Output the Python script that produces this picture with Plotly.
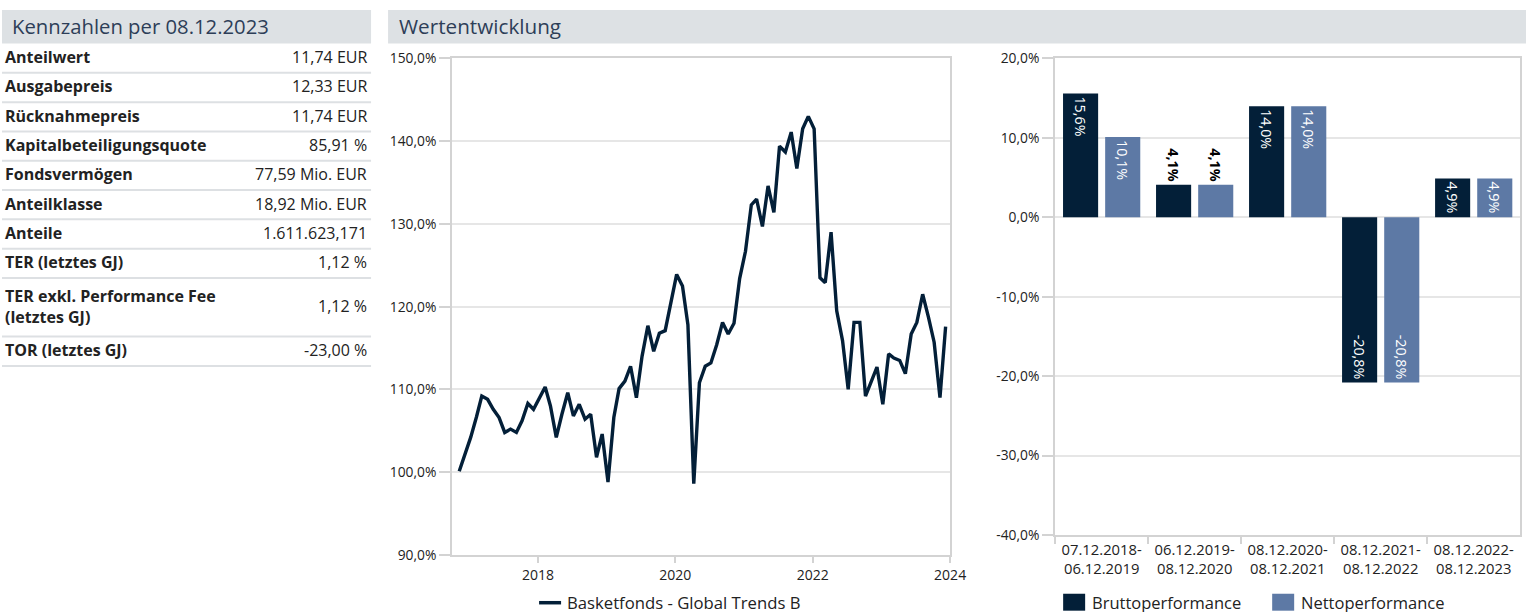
import plotly.graph_objects as go
import pandas as pd

# ---------------- data ----------------
kz_title = "Kennzahlen per 08.12.2023"
perf_title = "Wertentwicklung"
kz_labels = ["Anteilwert", "Ausgabepreis", "Rücknahmepreis", "Kapitalbeteiligungsquote",
             "Fondsvermögen", "Anteilklasse", "Anteile", "TER (letztes GJ)",
             "TER exkl. Performance Fee<br>(letztes GJ)", "TOR (letztes GJ)"]
kz_values = ["11,74 EUR", "12,33 EUR", "11,74 EUR", "85,91 %", "77,59 Mio. EUR",
             "18,92 Mio. EUR", "1.611.623,171", "1,12 %", "1,12 %", "-23,00 %"]

line_name = "Basketfonds - Global Trends B"
line_dates = pd.date_range("2016-11-01", periods=86, freq="MS") + pd.Timedelta(days=7)
line_values = [100.1, 102.0, 104.2, 106.7, 109.2, 108.8, 107.6, 106.6, 104.8, 105.2,
               104.8, 106.2, 108.3, 107.6, 108.9, 110.3, 108.0, 104.2, 107.0, 109.6,
               106.8, 108.2, 106.4, 107.0, 101.8, 104.6, 98.8, 106.6, 110.1, 111.0,
               112.8, 109.0, 114.0, 117.7, 114.6, 116.8, 117.1, 120.5, 123.9, 122.5,
               117.8, 98.6, 110.8, 112.8, 113.2, 115.4, 118.1, 116.7, 118.0, 123.4,
               126.7, 132.3, 133.0, 129.7, 134.6, 131.4, 139.4, 138.7, 141.1, 136.7,
               141.5, 143.0, 141.5, 123.5, 122.9, 129.0, 119.5, 115.9, 110.0, 118.1,
               118.1, 109.2, 110.9, 112.7, 108.2, 114.3, 113.8, 113.5, 111.9, 116.7,
               118.1, 121.5, 118.7, 115.7, 109.0, 117.6]

bar_periods = ["07.12.2018-<br>06.12.2019", "06.12.2019-<br>08.12.2020",
               "08.12.2020-<br>08.12.2021", "08.12.2021-<br>08.12.2022",
               "08.12.2022-<br>08.12.2023"]
brutto_name = "Bruttoperformance"
netto_name = "Nettoperformance"
brutto_values = [15.6, 4.1, 14.0, -20.8, 4.9]
netto_values = [10.1, 4.1, 14.0, -20.8, 4.9]
bar_tickvals = [-40, -30, -20, -10, 0, 10, 20]
bar_ticktext = ["-40,0%", "-30,0%", "-20,0%", "-10,0%", "0,0%", "10,0%", "20,0%"]

# ---------------- style ----------------
W, H = 1542, 622
SX, SY = 0.9895, 0.9726     # page -> picture scale observed in earlier renders
OX, OY = 1.0, 8.6           # offset of the figure inside the page
FONT = "Open Sans"
NAVY = "#031f38"
BLUE = "#5d79a5"
HEAD_BG = "#dde1e4"
HEAD_TXT = "#2d3e58"
GRID = "#e6e6e6"
AXIS = "#d3d3d3"
TXT = "#222222"


def px(x):
    f = (x / SX - OX) / W
    return min(1.0, max(0.0, f))


def py(y):
    f = 1 - (y / SY - OY) / H
    return min(1.0, max(0.0, f))


fig = go.Figure()

fig.add_trace(go.Scatter(
    x=line_dates, y=line_values, mode="lines", name=line_name,
    line=dict(color=NAVY, width=3.4), xaxis="x", yaxis="y", showlegend=False,
))


def text_pos(vals):
    return ["outside" if abs(v) < 4.5 else "inside" for v in vals]


def bar_text(vals):
    out = []
    for v, pos in zip(vals, text_pos(vals)):
        s = ("%.1f%%" % v).replace(".", ",")
        out.append("<b>%s</b>" % s if pos == "outside" else s)
    return out


for name, vals, col in [(brutto_name, brutto_values, NAVY), (netto_name, netto_values, BLUE)]:
    fig.add_trace(go.Bar(
        x=bar_periods, y=vals, name=name, marker_color=col, marker_line_width=0,
        text=bar_text(vals), textposition=text_pos(vals),
        textangle=90, insidetextanchor="end", constraintext="none",
        insidetextfont=dict(color="white", size=14.3, family=FONT),
        outsidetextfont=dict(color="#000000", size=14.3, family=FONT),
        xaxis="x2", yaxis="y2", showlegend=False, cliponaxis=False,
    ))

axis_common = dict(
    showline=True, linecolor=AXIS, linewidth=2, mirror=True,
    ticks="outside", tickcolor=AXIS, tickwidth=1.5, zeroline=False,
)
tf_y = dict(family=FONT, size=13.8, color=TXT)

fig.update_layout(
    width=W, height=H, margin=dict(l=0, r=0, t=0, b=0),
    paper_bgcolor="white", plot_bgcolor="white",
    separators=",.",
    font=dict(family=FONT, color=TXT),
    barmode="group", bargap=0.094, bargroupgap=0.167,
    xaxis=dict(domain=[px(453), px(951)], type="date",
               range=["2016-10-01", "2024-01-01"], tick0="2018-01-01", dtick="M24",
               tickformat="%Y", showgrid=False, ticklen=6, anchor="y",
               tickfont=dict(family=FONT, size=14, color=TXT), **axis_common),
    yaxis=dict(domain=[py(555), py(57)], range=[90, 150], dtick=10,
               tickformat=".1f", ticksuffix="%", showgrid=True, gridcolor=GRID,
               gridwidth=2, ticklen=11, anchor="x", tickfont=tf_y, **axis_common),
    xaxis2=dict(domain=[px(1056), px(1521)], type="category", tickson="boundaries",
                showgrid=False, ticklen=7, anchor="y2",
                tickfont=dict(family=FONT, size=14.8, color=TXT), **axis_common),
    yaxis2=dict(domain=[py(535), py(57)], range=[-40, 20],
                tickvals=bar_tickvals, ticktext=bar_ticktext,
                showgrid=True, gridcolor=GRID,
                gridwidth=2, ticklen=11, anchor="x2", tickfont=tf_y, **axis_common),
)

shapes = []
ann = []
# header bars
shapes.append(dict(type="rect", xref="paper", yref="paper", x0=px(3), x1=px(372),
                   y0=py(42), y1=py(7), fillcolor=HEAD_BG, line_width=0, layer="below"))
shapes.append(dict(type="rect", xref="paper", yref="paper", x0=px(389), x1=1.0,
                   y0=py(42), y1=py(7), fillcolor=HEAD_BG, line_width=0, layer="below"))
ann.append(dict(text=kz_title, xref="paper", yref="paper", x=px(11), y=py(24.5),
                xanchor="left", yanchor="middle", showarrow=False,
                font=dict(family=FONT, size=20.3, color=HEAD_TXT)))
ann.append(dict(text=perf_title, xref="paper", yref="paper", x=px(398), y=py(24.5),
                xanchor="left", yanchor="middle", showarrow=False,
                font=dict(family=FONT, size=20.7, color=HEAD_TXT)))

# table rows
row_h = 29.4
top = 42
for lab, val in zip(kz_labels, kz_values):
    n = 2 if "<br>" in lab else 1
    y1 = top + row_h * n
    cy = (top + y1) / 2
    ann.append(dict(text="<b>%s</b>" % lab, xref="paper", yref="paper", x=px(4), y=py(cy - 1),
                    xanchor="left", yanchor="middle", align="left", showarrow=False,
                    font=dict(family=FONT, size=16, color=TXT)))
    ann.append(dict(text=val, xref="paper", yref="paper", x=px(370), y=py(cy - 1),
                    xanchor="right", yanchor="middle", align="right", showarrow=False,
                    font=dict(family=FONT, size=16, color=TXT)))
    shapes.append(dict(type="line", xref="paper", yref="paper", x0=px(3), x1=px(372),
                       y0=py(y1), y1=py(y1), line=dict(color="#dde0e3", width=2)))
    top = y1

# legends (drawn manually to match the reference's swatches)
LEG_Y = 603
shapes.append(dict(type="line", xref="paper", yref="paper", x0=px(540), x1=px(562),
                   y0=py(LEG_Y), y1=py(LEG_Y), line=dict(color=NAVY, width=3.5)))
ann.append(dict(text=line_name, xref="paper", yref="paper", x=px(566), y=py(LEG_Y),
                xanchor="left", yanchor="middle", showarrow=False,
                font=dict(family=FONT, size=16.7, color=TXT)))
shapes.append(dict(type="rect", xref="paper", yref="paper", x0=px(1064), x1=px(1086),
                   y0=py(611), y1=py(594), fillcolor=NAVY, line_width=0))
ann.append(dict(text=brutto_name, xref="paper", yref="paper", x=px(1091), y=py(LEG_Y),
                xanchor="left", yanchor="middle", showarrow=False,
                font=dict(family=FONT, size=16.5, color=TXT)))
shapes.append(dict(type="rect", xref="paper", yref="paper", x0=px(1273), x1=px(1295),
                   y0=py(611), y1=py(594), fillcolor=BLUE, line_width=0))
ann.append(dict(text=netto_name, xref="paper", yref="paper", x=px(1300), y=py(LEG_Y),
                xanchor="left", yanchor="middle", showarrow=False,
                font=dict(family=FONT, size=16.5, color=TXT)))

fig.update_layout(shapes=shapes, annotations=ann)

fig.write_html("out.html", config={"displayModeBar": False},
               post_script="document.body.style.margin='0';")
